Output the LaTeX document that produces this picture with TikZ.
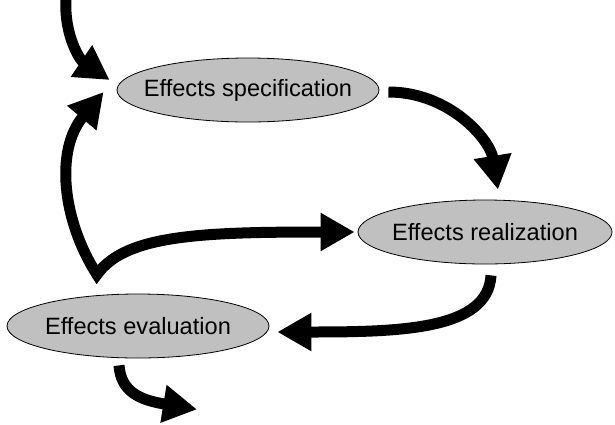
\documentclass[tikz,border=0pt]{standalone}
\usepackage{fontspec}
\setmainfont{Liberation Sans}
\usetikzlibrary{shapes.geometric,arrows.meta,calc}
\definecolor{graybg}{HTML}{C0C0C0}
\begin{document}
\begin{tikzpicture}[x=1pt,y=-1pt,
  stage/.style={ellipse, draw=black, line width=0.8pt, fill=graybg, inner sep=0pt,
    minimum height=64pt, font=\fontsize{23.6}{28}\selectfont},
  bigtip/.style={Triangle[width=36pt,length=34pt]},
  flow/.style={line width=11pt, -{Triangle[width=36pt,length=34pt]}},
  loopflow/.style={line width=11pt, line join=miter,
    {Triangle[width=36pt,length=34pt]}-{Triangle[width=36pt,length=34pt]}},
]
\useasboundingbox (0,0) rectangle (615,424);

\node[stage, minimum width=262pt] (spec) at (248,90) {\makebox[0pt]{Effects specification}};
\node[stage, minimum width=254pt] (real) at (485,232) {\makebox[0pt]{Effects realization}};
\node[stage, minimum width=262pt] (eval) at (138,326) {\makebox[0pt]{Effects evaluation}};

\coordinate (in) at (66,0);
\coordinate (out) at ($(eval.south)+(59,51)$);
\coordinate (vtx) at ($(eval.north)+(-41,-19)$);

% incoming
\draw[flow] (in) .. controls (64,35) and (80,60) .. ($(spec.west)+(-7,-10)$);
% spec -> real
\draw[flow] ($(spec.east)+(9,2)$) .. controls (450,92) and (490,140) .. ($(real.north)+(13,-10)$);
% eval -> spec and eval -> real
\draw[loopflow] ($(spec.west)+(-13,2)$) .. controls (55,150) and (62,220) .. (vtx)
  .. controls (125,235) and (200,232) .. ($(real.west)+(-3,0)$);
% real -> eval
\draw[flow] ($(real.south)+(6,11)$) .. controls (488,330) and (400,332) .. ($(eval.east)+(8,6)$);
% outgoing
\draw[flow] ($(eval.south)+(-19,7)$) .. controls (121,392) and (140,400) .. (out);
\end{tikzpicture}
\end{document}
